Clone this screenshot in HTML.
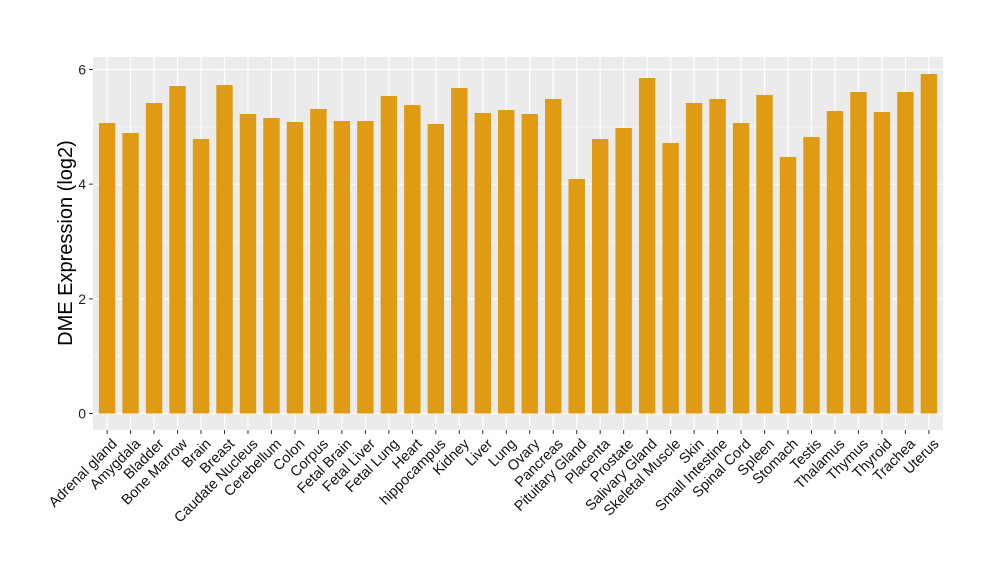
<!DOCTYPE html><html><head><style>body{margin:0;background:#fff}svg{display:block}text{font-family:"Liberation Sans",Arial,sans-serif}</style></head><body>
<svg width="1000" height="580" xmlns="http://www.w3.org/2000/svg">
<rect x="93" y="57" width="850" height="373" fill="#ebebeb"/>
<path d="M93 356.17H943M93 241.51H943M93 126.85H943" stroke="#fff" stroke-width="0.6"/>
<path d="M93 413.5H943M93 298.84H943M93 184.18H943M93 69.52H943" stroke="#fff" stroke-width="1.2"/>
<path d="M107.1 57V430M130.58 57V430M154.06 57V430M177.54 57V430M201.02 57V430M224.5 57V430M247.98 57V430M271.46 57V430M294.94 57V430M318.42 57V430M341.9 57V430M365.38 57V430M388.86 57V430M412.34 57V430M435.82 57V430M459.3 57V430M482.78 57V430M506.26 57V430M529.74 57V430M553.22 57V430M576.7 57V430M600.18 57V430M623.66 57V430M647.14 57V430M670.62 57V430M694.1 57V430M717.58 57V430M741.06 57V430M764.54 57V430M788.02 57V430M811.5 57V430M834.98 57V430M858.46 57V430M881.94 57V430M905.42 57V430M928.9 57V430" stroke="#fff" stroke-width="1.2"/>
<g fill="#de9b13">
<rect x="98.9" y="123" width="16.4" height="290.5"/>
<rect x="122.38" y="133" width="16.4" height="280.5"/>
<rect x="145.86" y="103" width="16.4" height="310.5"/>
<rect x="169.34" y="86" width="16.4" height="327.5"/>
<rect x="192.82" y="139" width="16.4" height="274.5"/>
<rect x="216.3" y="85" width="16.4" height="328.5"/>
<rect x="239.78" y="114" width="16.4" height="299.5"/>
<rect x="263.26" y="118" width="16.4" height="295.5"/>
<rect x="286.74" y="122" width="16.4" height="291.5"/>
<rect x="310.22" y="109" width="16.4" height="304.5"/>
<rect x="333.7" y="121" width="16.4" height="292.5"/>
<rect x="357.18" y="121" width="16.4" height="292.5"/>
<rect x="380.66" y="96" width="16.4" height="317.5"/>
<rect x="404.14" y="105" width="16.4" height="308.5"/>
<rect x="427.62" y="124" width="16.4" height="289.5"/>
<rect x="451.1" y="88" width="16.4" height="325.5"/>
<rect x="474.58" y="113" width="16.4" height="300.5"/>
<rect x="498.06" y="110" width="16.4" height="303.5"/>
<rect x="521.54" y="114" width="16.4" height="299.5"/>
<rect x="545.02" y="99" width="16.4" height="314.5"/>
<rect x="568.5" y="179" width="16.4" height="234.5"/>
<rect x="591.98" y="139" width="16.4" height="274.5"/>
<rect x="615.46" y="128" width="16.4" height="285.5"/>
<rect x="638.94" y="78" width="16.4" height="335.5"/>
<rect x="662.42" y="143" width="16.4" height="270.5"/>
<rect x="685.9" y="103" width="16.4" height="310.5"/>
<rect x="709.38" y="99" width="16.4" height="314.5"/>
<rect x="732.86" y="123" width="16.4" height="290.5"/>
<rect x="756.34" y="95" width="16.4" height="318.5"/>
<rect x="779.82" y="157" width="16.4" height="256.5"/>
<rect x="803.3" y="137" width="16.4" height="276.5"/>
<rect x="826.78" y="111" width="16.4" height="302.5"/>
<rect x="850.26" y="92" width="16.4" height="321.5"/>
<rect x="873.74" y="112" width="16.4" height="301.5"/>
<rect x="897.22" y="92" width="16.4" height="321.5"/>
<rect x="920.7" y="74" width="16.4" height="339.5"/>
</g>
<path d="M89 413.5H93M89 298.84H93M89 184.18H93M89 69.52H93" stroke="#333"/>
<path d="M107.1 430V434M130.58 430V434M154.06 430V434M177.54 430V434M201.02 430V434M224.5 430V434M247.98 430V434M271.46 430V434M294.94 430V434M318.42 430V434M341.9 430V434M365.38 430V434M388.86 430V434M412.34 430V434M435.82 430V434M459.3 430V434M482.78 430V434M506.26 430V434M529.74 430V434M553.22 430V434M576.7 430V434M600.18 430V434M623.66 430V434M647.14 430V434M670.62 430V434M694.1 430V434M717.58 430V434M741.06 430V434M764.54 430V434M788.02 430V434M811.5 430V434M834.98 430V434M858.46 430V434M881.94 430V434M905.42 430V434M928.9 430V434" stroke="#333"/>
<g font-size="14" text-anchor="end" fill="#222">
<text x="86" y="418.5">0</text><text x="86" y="303.8">2</text><text x="86" y="189.2">4</text><text x="86" y="74.5">6</text>
</g>
<g font-size="14.5" text-anchor="end" fill="#111">
<text transform="translate(110.1,437) rotate(-45)" dy="0.75em">Adrenal gland</text>
<text transform="translate(133.58,437) rotate(-45)" dy="0.75em">Amygdala</text>
<text transform="translate(157.06,437) rotate(-45)" dy="0.75em">Bladder</text>
<text transform="translate(180.54,437) rotate(-45)" dy="0.75em">Bone Marrow</text>
<text transform="translate(204.02,437) rotate(-45)" dy="0.75em">Brain</text>
<text transform="translate(227.5,437) rotate(-45)" dy="0.75em">Breast</text>
<text transform="translate(250.98,437) rotate(-45)" dy="0.75em">Caudate Nucleus</text>
<text transform="translate(274.46,437) rotate(-45)" dy="0.75em">Cerebellum</text>
<text transform="translate(297.94,437) rotate(-45)" dy="0.75em">Colon</text>
<text transform="translate(321.42,437) rotate(-45)" dy="0.75em">Corpus</text>
<text transform="translate(344.9,437) rotate(-45)" dy="0.75em">Fetal Brain</text>
<text transform="translate(368.38,437) rotate(-45)" dy="0.75em">Fetal Liver</text>
<text transform="translate(391.86,437) rotate(-45)" dy="0.75em">Fetal Lung</text>
<text transform="translate(415.34,437) rotate(-45)" dy="0.75em">Heart</text>
<text transform="translate(438.82,437) rotate(-45)" dy="0.75em">hippocampus</text>
<text transform="translate(462.3,437) rotate(-45)" dy="0.75em">Kidney</text>
<text transform="translate(485.78,437) rotate(-45)" dy="0.75em">Liver</text>
<text transform="translate(509.26,437) rotate(-45)" dy="0.75em">Lung</text>
<text transform="translate(532.74,437) rotate(-45)" dy="0.75em">Ovary</text>
<text transform="translate(556.22,437) rotate(-45)" dy="0.75em">Pancreas</text>
<text transform="translate(579.7,437) rotate(-45)" dy="0.75em">Pituitary Gland</text>
<text transform="translate(603.18,437) rotate(-45)" dy="0.75em">Placenta</text>
<text transform="translate(626.66,437) rotate(-45)" dy="0.75em">Prostate</text>
<text transform="translate(650.14,437) rotate(-45)" dy="0.75em">Salivary Gland</text>
<text transform="translate(673.62,437) rotate(-45)" dy="0.75em">Skeletal Muscle</text>
<text transform="translate(697.1,437) rotate(-45)" dy="0.75em">Skin</text>
<text transform="translate(720.58,437) rotate(-45)" dy="0.75em">Small Intestine</text>
<text transform="translate(744.06,437) rotate(-45)" dy="0.75em">Spinal Cord</text>
<text transform="translate(767.54,437) rotate(-45)" dy="0.75em">Spleen</text>
<text transform="translate(791.02,437) rotate(-45)" dy="0.75em">Stomach</text>
<text transform="translate(814.5,437) rotate(-45)" dy="0.75em">Testis</text>
<text transform="translate(837.98,437) rotate(-45)" dy="0.75em">Thalamus</text>
<text transform="translate(861.46,437) rotate(-45)" dy="0.75em">Thymus</text>
<text transform="translate(884.94,437) rotate(-45)" dy="0.75em">Thyroid</text>
<text transform="translate(908.42,437) rotate(-45)" dy="0.75em">Trachea</text>
<text transform="translate(931.9,437) rotate(-45)" dy="0.75em">Uterus</text>
</g>
<text transform="translate(72,243) rotate(-90)" font-size="20" text-anchor="middle" fill="#000">DME Expression (log2)</text>
</svg></body></html>
